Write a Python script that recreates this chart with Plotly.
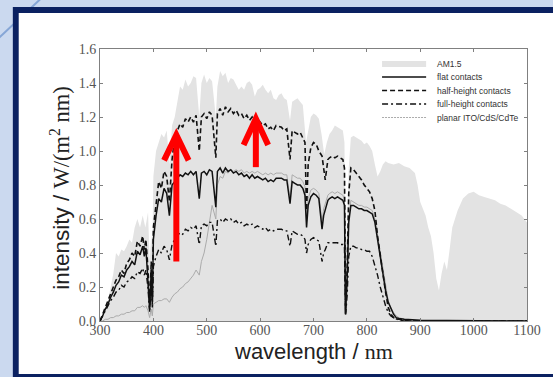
import plotly.graph_objects as go

# ---------------------------------------------------------------
# AM1.5 reference spectrum (W / (m^2 nm))
# ---------------------------------------------------------------
am_wl = [300, 305, 310, 315, 320, 325, 330, 335, 340, 345, 350, 355, 360, 365, 370,
         375, 380, 385, 390, 393, 396, 398, 400, 405, 410, 415, 420, 425, 430, 435,
         440, 445, 450, 455, 460, 465, 470, 475, 480, 486, 490, 495, 500, 505, 510,
         517, 520, 525, 530, 535, 540, 545, 550, 555, 560, 565, 570, 575, 580, 585,
         590, 595, 600, 605, 610, 615, 620, 625, 630, 635, 640, 645, 650, 656, 660,
         665, 670, 675, 680, 686, 690, 695, 700, 705, 710, 715, 720, 725, 730, 735,
         740, 745, 750, 755, 758, 760, 763, 766, 770, 775, 780, 785, 790, 795, 800,
         805, 810, 815, 820, 825, 830, 835, 840, 850, 860, 870, 880, 890, 895, 900,
         905, 910, 915, 920, 925, 930, 935, 940, 945, 950, 955, 960, 965, 970, 980,
         990, 1000, 1010, 1020, 1030, 1040, 1050, 1060, 1070, 1080, 1090, 1100]
am_val = [0.00, 0.01, 0.06, 0.12, 0.20, 0.28, 0.40, 0.38, 0.42, 0.41, 0.44, 0.48, 0.46, 0.55, 0.60,
          0.55, 0.62, 0.55, 0.64, 0.35, 0.50, 0.40, 0.85, 1.00, 1.05, 1.10, 1.08, 1.12, 0.92, 1.15,
          1.20, 1.30, 1.38, 1.36, 1.42, 1.38, 1.40, 1.44, 1.43, 1.20, 1.40, 1.45, 1.40, 1.43, 1.41,
          1.20, 1.38, 1.47, 1.44, 1.46, 1.40, 1.43, 1.42, 1.39, 1.36, 1.38, 1.36, 1.40, 1.41, 1.39,
          1.32, 1.36, 1.37, 1.39, 1.36, 1.34, 1.36, 1.31, 1.30, 1.33, 1.34, 1.31, 1.30, 1.18, 1.29,
          1.30, 1.31, 1.29, 1.27, 1.05, 1.12, 1.20, 1.22, 1.21, 1.19, 1.10, 0.98, 1.05, 1.10, 1.12,
          1.15, 1.14, 1.13, 1.12, 1.05, 0.35, 0.55, 0.90, 1.08, 1.09, 1.08, 1.07, 1.06, 1.04, 1.05,
          1.03, 1.00, 0.92, 0.85, 0.88, 0.92, 0.94, 0.93, 0.92, 0.93, 0.91, 0.90, 0.87, 0.80, 0.70,
          0.66, 0.62, 0.55, 0.50, 0.40, 0.25, 0.18, 0.28, 0.35, 0.30, 0.42, 0.55, 0.60, 0.65, 0.72,
          0.75, 0.76, 0.74, 0.73, 0.72, 0.71, 0.69, 0.68, 0.66, 0.64, 0.62, 0.58]

# ---------------------------------------------------------------
# Spectra reaching the absorber for the different contact designs
# ---------------------------------------------------------------
wl = [300, 305, 310, 315, 320, 325, 330, 335, 340, 345, 350, 355, 360, 365, 370, 375,
      380, 383, 386, 390, 393, 396, 398, 400, 405, 410, 415, 420, 425, 430, 435, 440,
      445, 450, 455, 460, 465, 470, 475, 480, 486, 490, 495, 500, 505, 510, 517, 520,
      525, 530, 535, 540, 545, 550, 555, 560, 565, 570, 575, 580, 585, 590, 595, 600,
      605, 610, 615, 620, 625, 630, 640, 645, 650, 656, 660, 665, 670, 675, 680, 684,
      687, 690, 695, 700, 705, 710, 716, 719, 722, 727, 730, 735, 740, 745, 750, 755,
      758, 760, 763, 766, 770, 775, 780, 785, 790, 795, 800, 805, 810, 815, 820, 825,
      830, 835, 840, 845, 850, 855, 860, 870, 880, 900, 950, 1000, 1050, 1100]

half = [0.00, 0.04, 0.09, 0.13, 0.16, 0.20, 0.24, 0.26, 0.30, 0.28, 0.34, 0.36, 0.40, 0.38, 0.47, 0.44,
        0.50, 0.42, 0.48, 0.30, 0.08, 0.35, 0.12, 0.55, 0.70, 0.82, 0.78, 0.88, 0.85, 0.70, 0.95, 1.08,
        1.12, 1.16, 1.14, 1.19, 1.17, 1.20, 1.17, 1.21, 1.00, 1.20, 1.22, 1.19, 1.23, 1.21, 0.96, 1.22,
        1.25, 1.21, 1.26, 1.23, 1.25, 1.22, 1.24, 1.21, 1.22, 1.19, 1.21, 1.18, 1.20, 1.17, 1.19, 1.17,
        1.15, 1.16, 1.13, 1.14, 1.12, 1.15, 1.14, 1.12, 1.13, 0.95, 1.12, 1.11, 1.10, 1.11, 1.08, 1.05,
        0.65, 0.92, 1.02, 1.05, 1.04, 1.00, 0.97, 0.90, 0.83, 0.95, 0.96, 0.97, 0.96, 0.97, 0.96, 0.95,
        0.90, 0.05, 0.30, 0.75, 0.90, 0.89, 0.87, 0.85, 0.83, 0.80, 0.78, 0.76, 0.72, 0.65, 0.50, 0.38,
        0.27, 0.17, 0.08, 0.04, 0.02, 0.01, 0.01, 0.005, 0.0, 0.0, 0.0, 0.0, 0.0, 0.0]

flat = [0.00, 0.03, 0.07, 0.10, 0.14, 0.17, 0.21, 0.23, 0.27, 0.26, 0.30, 0.32, 0.35, 0.33, 0.41, 0.39,
        0.44, 0.38, 0.43, 0.25, 0.07, 0.30, 0.10, 0.48, 0.62, 0.72, 0.70, 0.78, 0.75, 0.62, 0.80, 0.82,
        0.84, 0.86, 0.85, 0.87, 0.86, 0.88, 0.86, 0.88, 0.72, 0.87, 0.88, 0.86, 0.89, 0.88, 0.67, 0.88,
        0.90, 0.87, 0.90, 0.88, 0.89, 0.87, 0.88, 0.86, 0.87, 0.85, 0.86, 0.84, 0.86, 0.84, 0.85, 0.84,
        0.83, 0.84, 0.82, 0.83, 0.82, 0.84, 0.84, 0.83, 0.83, 0.69, 0.82, 0.81, 0.80, 0.80, 0.78, 0.74,
        0.55, 0.68, 0.73, 0.75, 0.74, 0.72, 0.54, 0.62, 0.66, 0.71, 0.72, 0.73, 0.72, 0.73, 0.72, 0.71,
        0.68, 0.04, 0.25, 0.58, 0.68, 0.68, 0.67, 0.66, 0.66, 0.65, 0.65, 0.64, 0.63, 0.58, 0.48, 0.38,
        0.28, 0.18, 0.11, 0.07, 0.04, 0.02, 0.015, 0.01, 0.008, 0.005, 0.003, 0.002, 0.0, 0.0]

full = [0.00, 0.03, 0.06, 0.09, 0.12, 0.14, 0.17, 0.18, 0.21, 0.20, 0.23, 0.24, 0.26, 0.25, 0.29, 0.28,
        0.31, 0.27, 0.30, 0.19, 0.05, 0.22, 0.08, 0.32, 0.38, 0.42, 0.40, 0.44, 0.42, 0.36, 0.45, 0.48,
        0.50, 0.52, 0.51, 0.54, 0.53, 0.55, 0.54, 0.56, 0.45, 0.56, 0.57, 0.56, 0.58, 0.58, 0.44, 0.59,
        0.60, 0.58, 0.60, 0.59, 0.60, 0.58, 0.59, 0.57, 0.58, 0.56, 0.57, 0.56, 0.57, 0.55, 0.56, 0.55,
        0.54, 0.55, 0.53, 0.54, 0.53, 0.54, 0.54, 0.53, 0.53, 0.44, 0.53, 0.52, 0.51, 0.51, 0.50, 0.48,
        0.40, 0.45, 0.48, 0.49, 0.48, 0.47, 0.35, 0.40, 0.42, 0.46, 0.46, 0.46, 0.46, 0.46, 0.45, 0.45,
        0.43, 0.03, 0.15, 0.38, 0.44, 0.44, 0.43, 0.43, 0.42, 0.42, 0.41, 0.41, 0.38, 0.33, 0.27, 0.20,
        0.14, 0.09, 0.05, 0.03, 0.02, 0.01, 0.005, 0.0, 0.0, 0.0, 0.0, 0.0, 0.0, 0.0]

planar = [0.00, 0.00, 0.01, 0.01, 0.02, 0.02, 0.03, 0.03, 0.04, 0.04, 0.05, 0.05, 0.06, 0.06, 0.08, 0.08,
          0.09, 0.08, 0.09, 0.06, 0.02, 0.07, 0.03, 0.10, 0.11, 0.12, 0.12, 0.13, 0.13, 0.11, 0.14, 0.16,
          0.17, 0.19, 0.20, 0.22, 0.23, 0.25, 0.27, 0.30, 0.27, 0.35, 0.40, 0.48, 0.58, 0.68, 0.60, 0.80,
          0.85, 0.84, 0.88, 0.87, 0.89, 0.88, 0.89, 0.88, 0.89, 0.87, 0.88, 0.87, 0.88, 0.87, 0.88, 0.87,
          0.86, 0.87, 0.86, 0.87, 0.86, 0.87, 0.87, 0.86, 0.86, 0.72, 0.86, 0.85, 0.84, 0.84, 0.82, 0.79,
          0.60, 0.72, 0.77, 0.78, 0.77, 0.75, 0.58, 0.66, 0.69, 0.74, 0.75, 0.76, 0.75, 0.76, 0.75, 0.74,
          0.71, 0.04, 0.26, 0.60, 0.71, 0.70, 0.69, 0.68, 0.68, 0.67, 0.67, 0.66, 0.65, 0.60, 0.50, 0.40,
          0.30, 0.20, 0.12, 0.08, 0.05, 0.03, 0.02, 0.01, 0.005, 0.0, 0.0, 0.0, 0.0, 0.0]

x_ticks = [300, 400, 500, 600, 700, 800, 900, 1000, 1100]
y_ticks = [0.0, 0.2, 0.4, 0.6, 0.8, 1.0, 1.2, 1.4, 1.6]

legend_labels = ["AM1.5", "flat contacts", "half-height contacts",
                 "full-height contacts", "planar ITO/CdS/CdTe"]

# ---------------------------------------------------------------
# page geometry (pixels) and helpers to convert into paper units
# ---------------------------------------------------------------
FIG_W, FIG_H = 553, 377
PL, PR, PT, PB = 100, 536, 49, 321


def px(x):
    return (x - PL) / (PR - PL)


def py(y):
    return (PB - y) / (PB - PT)


NAVY = "#0b2161"
SKY = "#cbd9ef"
AXIS_GREY = "#808080"
TICK_FONT = dict(family="Liberation Serif", size=14, color="#555555")

fig = go.Figure()

fig.add_trace(go.Scatter(x=am_wl, y=am_val, mode="lines", fill="tozeroy",
                         fillcolor="#e3e3e3", line=dict(width=0, color="#e3e3e3"),
                         name=legend_labels[0], showlegend=False))
fig.add_trace(go.Scatter(x=wl, y=planar, mode="lines",
                         line=dict(color="#ababab", width=1),
                         name=legend_labels[4], showlegend=False))
fig.add_trace(go.Scatter(x=wl, y=full, mode="lines",
                         line=dict(color="#111111", width=1.4, dash="6px,3px,2px,3px"),
                         name=legend_labels[3], showlegend=False))
fig.add_trace(go.Scatter(x=wl, y=half, mode="lines",
                         line=dict(color="#111111", width=1.6, dash="5px,3px"),
                         name=legend_labels[2], showlegend=False))
fig.add_trace(go.Scatter(x=wl, y=flat, mode="lines",
                         line=dict(color="#111111", width=1.5),
                         name=legend_labels[1], showlegend=False))

shapes = []
# slide background: diagonal accent, navy frame and white panel
shapes.append(dict(type="line", xref="paper", yref="paper", layer="below",
                   x0=px(-10), y0=py(44), x1=px(48), y1=py(-9),
                   line=dict(color="#86a6d6", width=2)))
shapes.append(dict(type="rect", xref="paper", yref="paper", layer="below",
                   x0=px(11), y0=py(7), x1=px(620), y1=py(420),
                   fillcolor=NAVY, line=dict(width=0)))
shapes.append(dict(type="rect", xref="paper", yref="paper", layer="below",
                   x0=px(17), y0=py(13), x1=px(620), y1=py(374),
                   fillcolor="white", line=dict(width=0)))

# legend keys
row_y = [64, 77, 90.5, 104, 117.5]
key_x0, key_x1, text_x = 388, 433, 442
shapes.append(dict(type="rect", xref="paper", yref="paper",
                   x0=px(key_x0), x1=px(key_x1), y0=py(row_y[0] + 3), y1=py(row_y[0] - 3),
                   fillcolor="#e3e3e3", line=dict(width=0)))
key_styles = [dict(color="#111111", width=1.6),
              dict(color="#111111", width=1.6, dash="5px,3px"),
              dict(color="#111111", width=1.4, dash="6px,3px,2px,3px"),
              dict(color="#ababab", width=1, dash="2px,1px")]
for yy, st in zip(row_y[1:], key_styles):
    shapes.append(dict(type="line", xref="paper", yref="paper",
                       x0=px(key_x0), x1=px(key_x1), y0=py(yy), y1=py(yy), line=st))

# red arrows pointing at the enhanced curve
RED = dict(color="#ff0000", width=6)
for xa, y_low, y_tip, hw, hh in [(443, 0.35, 1.095, 23, 0.15), (592, 0.905, 1.19, 23, 0.155)]:
    shapes.append(dict(type="line", xref="x", yref="y",
                       x0=xa, x1=xa, y0=y_low, y1=y_tip - 0.02, line=RED))
    shapes.append(dict(type="path", xref="x", yref="y",
                       path=f"M {xa - hw},{y_tip - hh} L {xa},{y_tip} L {xa + hw},{y_tip - hh}",
                       line=RED))

annotations = []
for yy, lab in zip(row_y, legend_labels):
    annotations.append(dict(xref="paper", yref="paper", x=px(text_x), y=py(yy),
                            xanchor="left", yanchor="middle", showarrow=False, text=lab,
                            font=dict(family="Liberation Sans", size=8.5, color="#333333")))

SERIF = '<span style="font-family:Liberation Serif">'
annotations.append(dict(xref="paper", yref="paper", x=px(59), y=py(188),
                        xanchor="center", yanchor="middle", showarrow=False, textangle=-90,
                        text="intensity / " + SERIF + "W/(m<sup>2</sup> nm)</span>",
                        font=dict(family="Liberation Sans", size=22.5, color="#222222")))
annotations.append(dict(xref="paper", yref="paper", x=px(318), y=py(351),
                        xanchor="center", yanchor="middle", showarrow=False,
                        text="wavelength / " + SERIF + "nm</span>",
                        font=dict(family="Liberation Sans", size=22, color="#222222")))

axis_common = dict(showgrid=False, zeroline=False, showline=True, linecolor=AXIS_GREY,
                   linewidth=1, mirror="ticks", ticks="inside", ticklen=3,
                   tickcolor=AXIS_GREY, tickfont=TICK_FONT)

fig.update_layout(
    width=FIG_W, height=FIG_H, autosize=False,
    margin=dict(l=PL, r=FIG_W - PR, t=PT, b=FIG_H - PB, pad=0),
    paper_bgcolor=SKY, plot_bgcolor="rgba(0,0,0,0)",
    showlegend=False,
    xaxis=dict(range=[300, 1100], tickvals=x_ticks, ticktext=[str(v) for v in x_ticks],
               ticklabelstandoff=-4, **axis_common),
    yaxis=dict(range=[0, 1.6], tickvals=y_ticks, ticktext=[f"{v:.1f}" for v in y_ticks],
               **axis_common),
    shapes=shapes,
    annotations=annotations,
)

fig.write_html("out.html")
